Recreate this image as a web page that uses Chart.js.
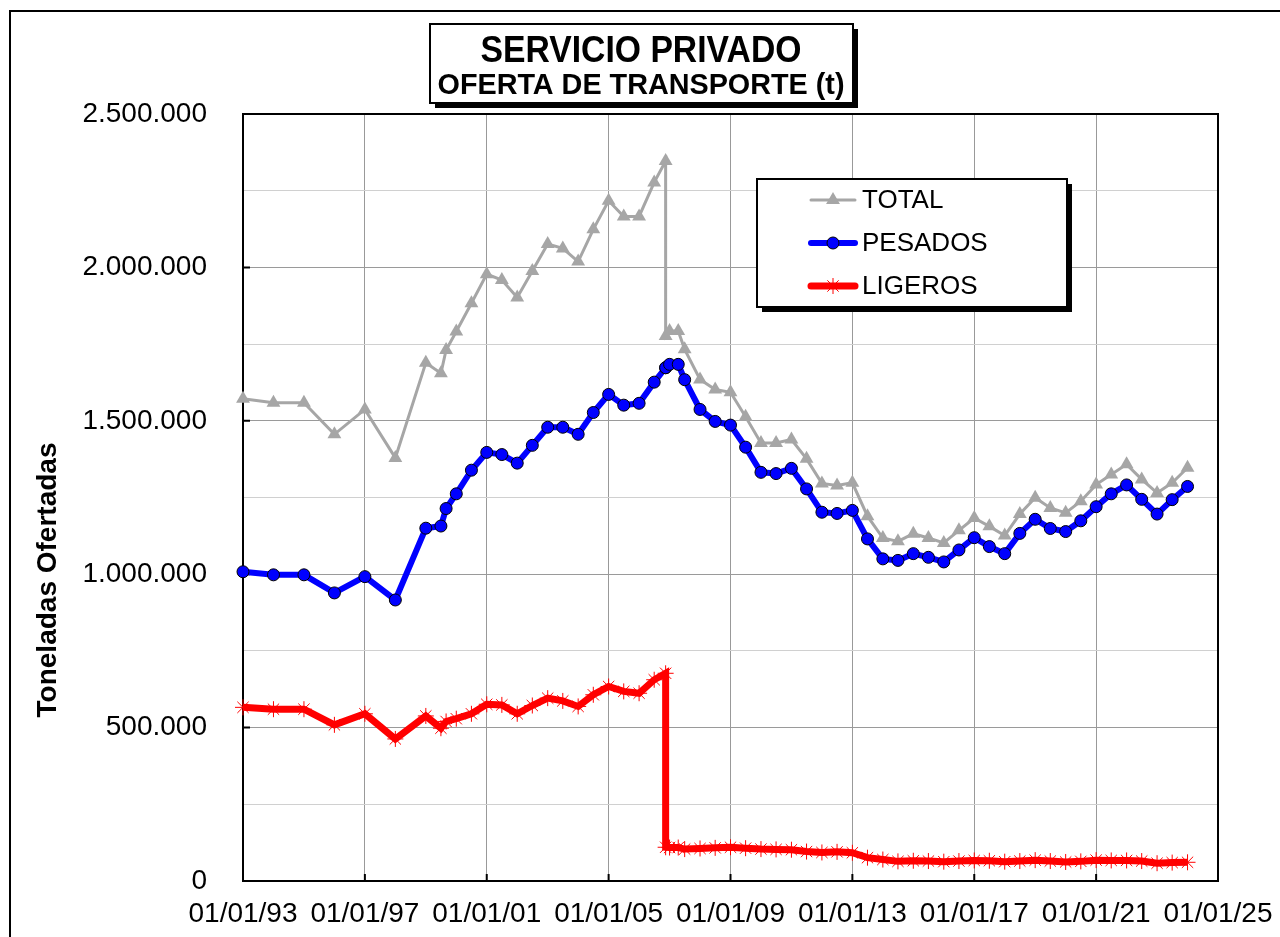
<!DOCTYPE html>
<html lang="es">
<head>
<meta charset="utf-8">
<title>Servicio privado - oferta de transporte</title>
<script src="https://cdn.jsdelivr.net/npm/chart.js@4.4.1/dist/chart.umd.min.js"></script>
<style>
  html, body { margin: 0; padding: 0; background: #fff; }
  #wrap { position: relative; width: 1280px; height: 937px; }
</style>
</head>
<body>
<div id="wrap"><canvas id="grafico"></canvas></div>
<script>
// Fechas de cada observación (nov-2006 se repite: serie antigua y serie nueva de ligeros)
const fechas = [
  '1993-01-01', '1994-01-01', '1995-01-01', '1996-01-01', '1997-01-01', '1998-01-01',
  '1999-01-01', '1999-07-01', '1999-09-01',
  '2000-01-01', '2000-07-01', '2001-01-01', '2001-07-01', '2002-01-01', '2002-07-01',
  '2003-01-01', '2003-07-01', '2004-01-01', '2004-07-01', '2005-01-01', '2005-07-01',
  '2006-01-01', '2006-07-01', '2006-11-15', '2006-11-15',
  '2007-01-01', '2007-04-15', '2007-07-01',
  '2008-01-01', '2008-07-01', '2009-01-01', '2009-07-01', '2010-01-01', '2010-07-01',
  '2011-01-01', '2011-07-01', '2012-01-01', '2012-07-01', '2013-01-01', '2013-07-01',
  '2014-01-01', '2014-07-01', '2015-01-01', '2015-07-01', '2016-01-01', '2016-07-01',
  '2017-01-01', '2017-07-01', '2018-01-01', '2018-07-01', '2019-01-01', '2019-07-01',
  '2020-01-01', '2020-07-01', '2021-01-01', '2021-07-01', '2022-01-01', '2022-07-01',
  '2023-01-01', '2023-07-01', '2024-01-01'
];

// Toneladas ofertadas
const total = [
  1572000, 1559000, 1559000, 1456000, 1537000, 1379000,
  1689000, 1655000, 1731000,
  1791000, 1883000, 1978000, 1959000, 1902000, 1988000,
  2076000, 2062000, 2019000, 2124000, 2217000, 2166000,
  2166000, 2277000, 2347000, 1776000,
  1793000, 1793000, 1733000,
  1635000, 1602000, 1593000, 1513000, 1428000, 1428000,
  1439000, 1376000, 1296000, 1289000, 1298000, 1189000,
  1118000, 1107000, 1132000, 1118000, 1102000, 1143000,
  1183000, 1156000, 1126000, 1196000, 1249000, 1216000,
  1200000, 1238000, 1292000, 1325000, 1358000, 1309000,
  1265000, 1298000, 1347000
];

const pesados = [
  1008000, 998000, 998000, 939000, 992000, 916000,
  1150000, 1157000, 1214000,
  1262000, 1339000, 1397000, 1390000, 1362000, 1420000,
  1479000, 1479000, 1456000, 1527000, 1586000, 1551000,
  1557000, 1626000, 1673000, 1673000,
  1684000, 1684000, 1634000,
  1537000, 1498000, 1486000, 1414000, 1332000, 1328000,
  1345000, 1278000, 1202000, 1198000, 1208000, 1115000,
  1050000, 1045000, 1067000, 1055000, 1040000, 1079000,
  1119000, 1090000, 1067000, 1133000, 1179000, 1149000,
  1139000, 1174000, 1220000, 1262000, 1291000, 1244000,
  1196000, 1243000, 1286000
];

const ligeros = [
  566000, 560000, 560000, 509000, 545000, 463000,
  538000, 498000, 520000,
  529000, 545000, 576000, 574000, 545000, 572000,
  596000, 587000, 569000, 607000, 634000, 618000,
  612000, 656000, 677000, 110000,
  109000, 109000, 104000,
  106000, 108000, 110000, 107000, 104000, 103000,
  102000, 96000, 93000, 95000, 92000, 76000,
  70000, 64000, 66000, 65000, 63000, 65000,
  67000, 66000, 63000, 65000, 68000, 65000,
  62000, 64000, 68000, 67000, 67000, 65000,
  58000, 60000, 61000
];

// Años marcados en el eje horizontal
const aniosEje = [1993, 1997, 2001, 2005, 2009, 2013, 2017, 2021, 2025];

const FUENTE = "'Liberation Sans', Arial, sans-serif";

// Fecha ISO -> año con decimales, para el eje lineal
function aDecimal(f) {
  const [a, m, d] = f.split('-').map(Number);
  const ini = Date.UTC(a, 0, 1), fin = Date.UTC(a + 1, 0, 1);
  return a + (Date.UTC(a, m - 1, d) - ini) / (fin - ini);
}

function serie(valores) {
  return valores.map((v, i) => ({ x: aDecimal(fechas[i]), y: v }));
}

// 2500000 -> "2.500.000"
function miles(v) {
  return String(v).replace(/\B(?=(\d{3})+(?!\d))/g, '.');
}

// Texto centrado y estirado/encogido a un ancho dado
function textoAjustado(ctx, txt, cx, base, ancho) {
  const w = ctx.measureText(txt).width;
  ctx.save();
  ctx.translate(cx, base);
  ctx.scale(ancho / w, 1);
  ctx.textAlign = 'center';
  ctx.textBaseline = 'alphabetic';
  ctx.fillText(txt, 0, 0);
  ctx.restore();
}

function cajaConSombra(ctx, x, y, w, h) {
  ctx.fillStyle = '#000';
  ctx.fillRect(x + 5, y + 5, w, h);
  ctx.fillStyle = '#fff';
  ctx.fillRect(x, y, w, h);
  ctx.strokeStyle = '#000';
  ctx.lineWidth = 2;
  ctx.strokeRect(x, y, w, h);
}

const decorado = {
  id: 'decorado',
  beforeDatasetsDraw(chart) {
    const { ctx, chartArea: a, scales: { x, y } } = chart;
    ctx.save();
    ctx.strokeStyle = '#000';
    ctx.lineWidth = 2;
    ctx.strokeRect(a.left, a.top, a.width, a.height);
    // marcas hacia dentro del área de trazado
    ctx.beginPath();
    y.ticks.forEach(t => {
      if (t.value % 500000 !== 0) return;
      const py = y.getPixelForValue(t.value);
      ctx.moveTo(a.left, py);
      ctx.lineTo(a.left + 7, py);
    });
    x.ticks.forEach(t => {
      const px = x.getPixelForValue(t.value);
      ctx.moveTo(px, a.bottom);
      ctx.lineTo(px, a.bottom - 7);
    });
    ctx.stroke();
    ctx.restore();
  },
  afterDraw(chart) {
    const ctx = chart.ctx;
    ctx.save();

    // marco exterior
    ctx.strokeStyle = '#000';
    ctx.lineWidth = 2;
    ctx.beginPath();
    ctx.moveTo(10, 937);
    ctx.lineTo(10, 11);
    ctx.lineTo(1280, 11);
    ctx.stroke();

    // título
    cajaConSombra(ctx, 430, 24, 423, 79);
    ctx.fillStyle = '#000';
    ctx.font = 'bold 36px ' + FUENTE;
    textoAjustado(ctx, 'SERVICIO PRIVADO', 641, 62, 321);
    ctx.font = 'bold 29px ' + FUENTE;
    textoAjustado(ctx, 'OFERTA DE TRANSPORTE (t)', 641, 94, 407);

    // título del eje vertical
    ctx.save();
    ctx.translate(48, 580);
    ctx.rotate(-Math.PI / 2);
    ctx.font = 'bold 28px ' + FUENTE;
    ctx.textAlign = 'center';
    ctx.textBaseline = 'middle';
    ctx.fillText('Toneladas Ofertadas', 0, 0);
    ctx.restore();

    // leyenda
    cajaConSombra(ctx, 757, 179, 310, 128);
    chart.data.datasets.forEach((ds, i) => {
      const cy = 200 + i * 43;
      ctx.strokeStyle = ds.borderColor;
      ctx.lineWidth = ds.borderWidth;
      ctx.lineCap = 'round';
      ctx.beginPath();
      ctx.moveTo(811, cy);
      ctx.lineTo(855, cy);
      ctx.stroke();
      ctx.lineCap = 'butt';
      ctx.fillStyle = ds.pointBackgroundColor;
      ctx.strokeStyle = ds.pointBorderColor;
      ctx.lineWidth = ds.pointBorderWidth;
      Chart.helpers.drawPoint(ctx, {
        pointStyle: ds.pointStyle,
        radius: ds.pointRadius,
        rotation: 0,
        borderWidth: ds.pointBorderWidth
      }, 833, cy);
      ctx.fillStyle = '#000';
      ctx.font = '26px ' + FUENTE;
      ctx.textAlign = 'left';
      ctx.textBaseline = 'middle';
      ctx.fillText(ds.label, 862, cy + 1);
    });

    ctx.restore();
  }
};

new Chart(document.getElementById('grafico'), {
  type: 'line',
  data: {
    datasets: [
      {
        label: 'TOTAL',
        data: serie(total),
        borderColor: '#a6a6a6',
        borderWidth: 3,
        pointStyle: 'triangle',
        pointRadius: 8,
        pointBackgroundColor: '#a6a6a6',
        pointBorderColor: '#a6a6a6',
        pointBorderWidth: 0,
        tension: 0,
        clip: false
      },
      {
        label: 'PESADOS',
        data: serie(pesados),
        borderColor: '#0000ff',
        borderWidth: 6,
        pointStyle: 'circle',
        pointRadius: 6,
        pointBackgroundColor: '#0000ff',
        pointBorderColor: '#000',
        pointBorderWidth: 1,
        tension: 0,
        clip: false
      },
      {
        label: 'LIGEROS',
        data: serie(ligeros),
        borderColor: '#ff0000',
        borderWidth: 7,
        pointStyle: 'star',
        pointRadius: 8,
        pointBackgroundColor: '#ff0000',
        pointBorderColor: '#ff0000',
        pointBorderWidth: 1,
        tension: 0,
        clip: false
      }
    ]
  },
  options: {
    responsive: true,
    maintainAspectRatio: false,
    animation: false,
    layout: { padding: { top: 114, right: 62, left: 0, bottom: 0 } },
    plugins: {
      legend: { display: false },
      title: { display: false },
      tooltip: { enabled: false }
    },
    scales: {
      x: {
        type: 'linear',
        min: 1993,
        max: 2025,
        afterBuildTicks: s => { s.ticks = aniosEje.map(v => ({ value: v })); },
        afterFit: s => { s.height = 56; s.paddingLeft = 0; s.paddingRight = 0; },
        grid: { color: '#999', lineWidth: 1, drawTicks: false },
        border: { color: '#000', width: 2 },
        ticks: {
          color: '#000',
          font: { family: FUENTE, size: 28 },
          padding: 16,
          maxRotation: 0,
          autoSkip: false,
          callback: v => '01/01/' + String(v % 100).padStart(2, '0')
        }
      },
      y: {
        min: 0,
        max: 2500000,
        afterFit: s => { s.width = 243; s.paddingTop = 0; s.paddingBottom = 0; },
        grid: {
          color: c => (c.tick && c.tick.value % 500000 === 0) ? '#9a9a9a' : '#d0d0d0',
          lineWidth: 1,
          drawTicks: false
        },
        border: { color: '#000', width: 2 },
        ticks: {
          stepSize: 250000,
          color: '#000',
          font: { family: FUENTE, size: 28 },
          padding: 36,
          autoSkip: false,
          callback: v => v % 500000 === 0 ? miles(v) : ''
        }
      }
    }
  },
  plugins: [decorado]
});
</script>
</body>
</html>
